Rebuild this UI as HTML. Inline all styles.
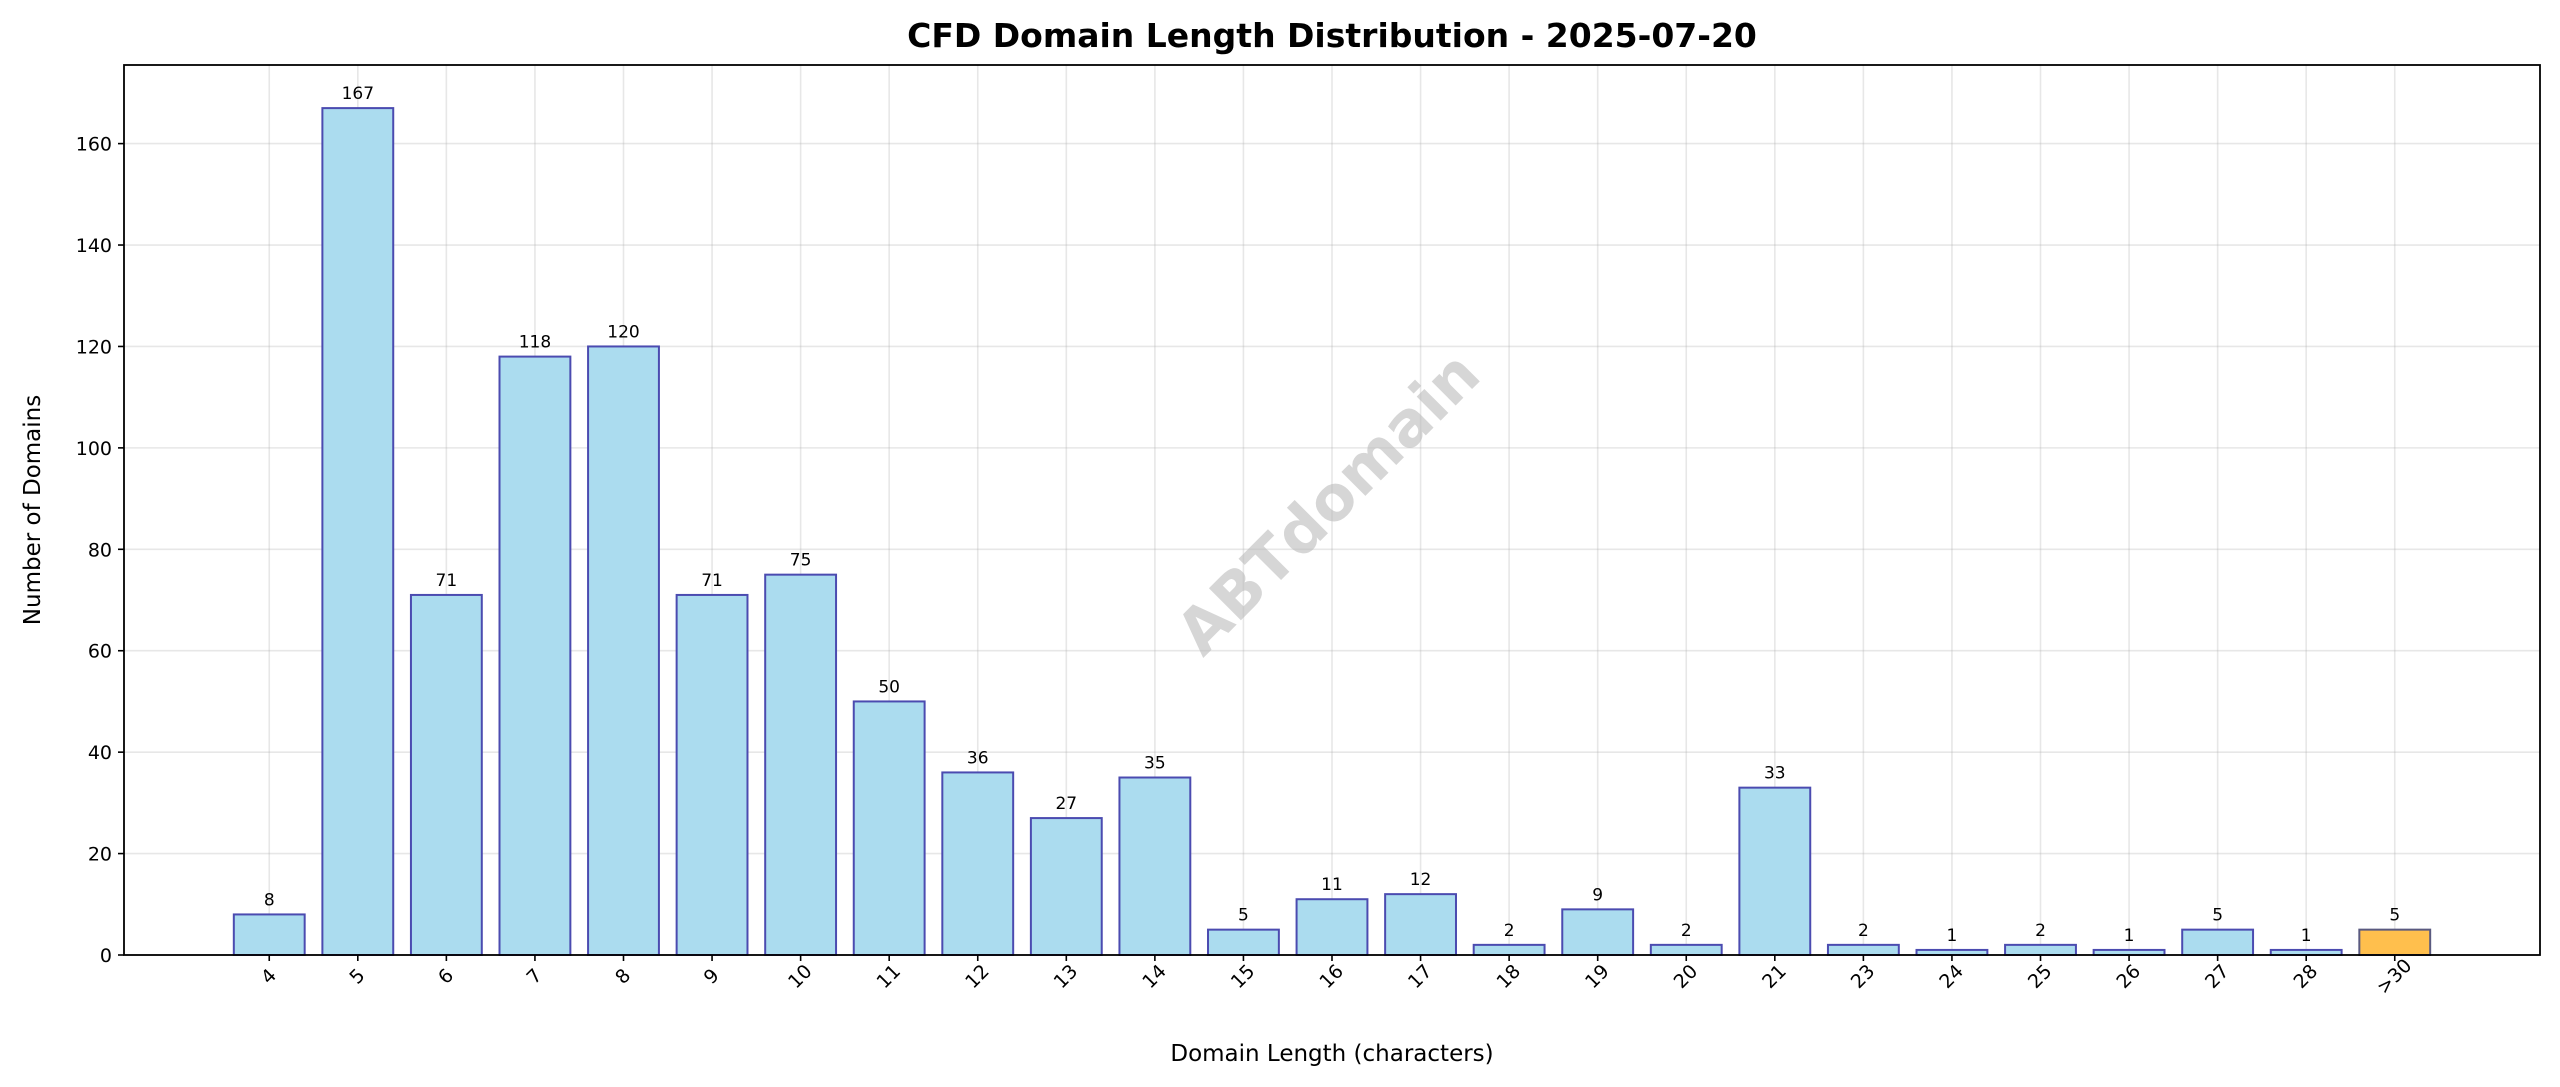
<!DOCTYPE html>
<html><head><meta charset="utf-8"><style>
html,body{margin:0;padding:0;background:#fff;}
svg{display:block;font-family:"DejaVu Sans","Liberation Sans",sans-serif;}
</style></head><body>
<svg id="chart" width="2560" height="1087" viewBox="0 0 2560 1087" xmlns="http://www.w3.org/2000/svg">
<rect width="2560" height="1087" fill="#fff"/>
<g id="grid"></g>
<text x="1331" y="506" font-size="62" font-weight="bold" fill="#bbbbbb" fill-opacity="0.6" text-anchor="middle" dominant-baseline="middle" transform="rotate(-45 1331 506)">ABTdomain</text>
<g id="bars"></g>
<g id="axes"></g>
<text x="1332" y="47" font-size="33" font-weight="bold" text-anchor="middle">CFD Domain Length Distribution - 2025-07-20</text>
<text x="1332" y="1061" font-size="23" text-anchor="middle">Domain Length (characters)</text>
<text x="40" y="510" font-size="23" text-anchor="middle" transform="rotate(-90 40 510)">Number of Domains</text>
</svg>
<script>
const categories = ["4","5","6","7","8","9","10","11","12","13","14","15","16","17","18","19","20","21","23","24","25","26","27","28",">30"];
const counts = [8,167,71,118,120,71,75,50,36,27,35,5,11,12,2,9,2,33,2,1,2,1,5,1,5];
const yTicks = [0,20,40,60,80,100,120,140,160];

const NS="http://www.w3.org/2000/svg";
const L=124,R=2540,T=65,B=955,yMax=175.5;
const xMin=-1.64,xMax=categories.length-1+1.64;
function xs(i){return L+(i-xMin)/(xMax-xMin)*(R-L);}
function ys(v){return B-v/yMax*(B-T);}
const bw=0.8*(xs(1)-xs(0));
function mk(tag,attrs,parent){const e=document.createElementNS(NS,tag);for(const k in attrs)e.setAttribute(k,attrs[k]);parent.appendChild(e);return e;}
const grid=document.getElementById('grid'),bars=document.getElementById('bars'),axes=document.getElementById('axes');
yTicks.forEach(t=>{
  const g=mk('line',{x1:L,x2:R,y1:ys(t),y2:ys(t),stroke:'#b0b0b0','stroke-opacity':0.3,'stroke-width':1.6},grid);
  
  
  const tk=mk('line',{x1:L-6,x2:L,y1:ys(t),y2:ys(t),stroke:'#000','stroke-width':1.6},axes);
  
  
  const lb=mk('text',{x:L-12,y:ys(t)+7,'font-size':19,'text-anchor':'end'},axes);
  lb.textContent=t;
  
  
});
categories.forEach((c,i)=>{
  const x=xs(i);
  const g=mk('line',{x1:x,x2:x,y1:T,y2:B,stroke:'#b0b0b0','stroke-opacity':0.3,'stroke-width':1.6},grid);
  
  
  const v=counts[i];
  const last=i===categories.length-1;
  const r=mk('rect',{x:x-bw/2,y:ys(v),width:bw,height:B-ys(v),fill:last?'#ffbf4d':'#abdcef',stroke:last?'#5a5a80':'#4b4bb0','stroke-width':2},bars);
  
  
  const vl=mk('text',{x:x,y:ys(v)-9,'font-size':17,'text-anchor':'middle'},bars);
  vl.textContent=v;
  
  
  const tk=mk('line',{x1:x,x2:x,y1:B,y2:B+6,stroke:'#000','stroke-width':1.6},axes);
  
  
  const ty=B+22;
  const lb=mk('text',{x:x,y:ty,'font-size':19,'text-anchor':'middle','dominant-baseline':'middle',transform:`rotate(-45 ${x} ${ty})`},axes);
  lb.textContent=c;
  
  
});
const fr=mk('rect',{x:L,y:T,width:R-L,height:B-T,fill:'none',stroke:'#000','stroke-width':1.8},axes);


</script>
</body></html>
